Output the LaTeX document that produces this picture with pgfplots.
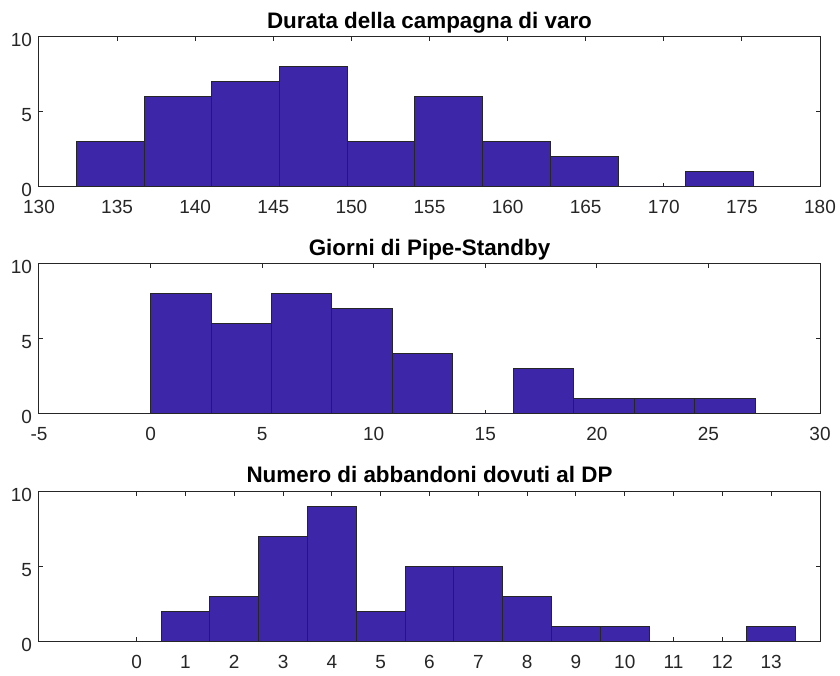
\documentclass[border=0pt]{standalone}
\usepackage{pgfplots}
\pgfplotsset{compat=1.18}
\usepackage{fontspec}
\setmainfont{Liberation Sans}

\definecolor{barfill}{rgb}{0.2422,0.1504,0.6603}
\definecolor{axgray}{rgb}{0.15,0.15,0.15}

\pgfplotsset{
  histo/.style={
    scale only axis, width=390.5pt, height=75pt,
    anchor=south west,
    ymin=0, ymax=10, ytick={0,5,10},
    tick align=inside, major tick length=2.2pt,
    axis line style={axgray, line width=0.5pt},
    every tick/.style={axgray, line width=0.5pt},
    tick label style={font=\fontsize{9.5}{11}\selectfont, text=axgray},
    xticklabel style={yshift=-3.2pt},
    yticklabel style={yshift=-1.5pt},
    /pgf/number format/assume math mode=true,
    title style={font=\bfseries\fontsize{11.2}{13}\selectfont,
                 at={(0.5,1)}, anchor=base, yshift=-1.6pt},
  },
  histbar/.style={ybar interval, fill=barfill, draw=axgray, line width=0.5pt},
}

\begin{document}
\begin{tikzpicture}
\path[use as bounding box] (0,0) rectangle (420pt,337.5pt);

% Durata della campagna di varo
\begin{axis}[histo, at={(19.5pt,244pt)},
  xmin=130, xmax=180, xtick={130,135,...,180},
  title={Durata della campagna di varo}]
\addplot[histbar] coordinates {
  (132.4,3) (136.73,6) (141.07,7) (145.4,8) (149.73,3)
  (154.07,6) (158.4,3) (162.73,2) (167.07,0) (171.4,1) (175.73,1)};
\end{axis}

% Giorni di Pipe-Standby
\begin{axis}[histo, at={(19.5pt,130.5pt)},
  xmin=-5, xmax=30, xtick={-5,0,...,30},
  title={Giorni di Pipe-Standby}]
\addplot[histbar] coordinates {
  (0,8) (2.71,6) (5.42,8) (8.13,7) (10.84,4)
  (13.55,0) (16.26,3) (18.97,1) (21.68,1) (24.39,1) (27.1,1)};
\end{axis}

% Numero di abbandoni dovuti al DP
\begin{axis}[histo, at={(19.5pt,16.65pt)},
  xmin=-2, xmax=14, xtick={0,1,...,13},
  title={Numero di abbandoni dovuti al DP}]
\addplot[histbar] coordinates {
  (-0.5,0) (0.5,2) (1.5,3) (2.5,7) (3.5,9) (4.5,2) (5.5,5)
  (6.5,5) (7.5,3) (8.5,1) (9.5,1) (10.5,0) (11.5,0) (12.5,1) (13.5,1)};
\end{axis}
\end{tikzpicture}
\end{document}
